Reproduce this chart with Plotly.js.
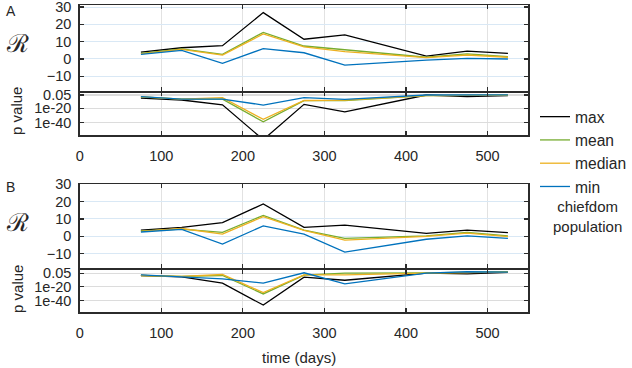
<!DOCTYPE html>
<html>
<head>
<meta charset="utf-8">
<script src="https://cdn.plot.ly/plotly-3.0.1.min.js"></script>
<style>html,body{margin:0;padding:0;background:#fff;}#chart{width:632px;height:368px;}</style>
</head>
<body>
<div id="chart"></div>
<script>
// time points (days)
const days = [75, 125, 175, 225, 275, 325, 425, 475, 525];
const seriesNames = ['max', 'mean', 'median', 'min'];
const seriesColors = ['#000000', '#77AC30', '#EDB120', '#0072BD'];

// Panel A: reproduction number R
const maxA    = [4.0, 6.5, 7.7, 26.8, 11.4, 13.9, 1.7, 4.6, 3.3];
const meanA   = [3.3, 5.8, 2.7, 15.4, 7.5, 5.2, 1.0, 2.9, 1.3];
const medianA = [3.0, 5.5, 2.2, 14.5, 7.0, 4.2, 0.8, 2.3, 1.0];
const minA    = [2.7, 5.0, -2.5, 6.0, 3.6, -3.5, -0.6, 0.4, 0.0];
// Panel A: p value (log10)
const maxPA    = [-5.5, -8.3, -15, -64, -14.4, -25, -1.3, -3.7, -2.3];
const meanPA   = [-4, -7, -7, -38.9, -9.3, -9.3, -2.3, -2, -1.5];
const medianPA = [-4, -7, -5, -35.5, -9, -8.5, -2, -1.8, -1.5];
const minPA    = [-3.7, -7, -7, -15.4, -5, -7.4, -1.3, -1.3, -1];

// Panel B: reproduction number R
const maxB    = [3.5, 5.2, 7.9, 18.7, 5.2, 6.4, 1.7, 3.6, 2.1];
const meanB   = [3.1, 4.2, 2.3, 12.1, 3.6, -1.2, 0.2, 2.3, 0.2];
const medianB = [2.8, 4.5, 1.3, 11.3, 3.4, -2.2, 0.0, 1.8, -0.2];
const minB    = [2.5, 4.0, -4.5, 6.0, 1.2, -9.1, -1.7, 0.2, -1.2];
// Panel B: p value (log10)
const maxPB    = [-4.3, -6.2, -15.2, -46.2, -6.6, -11, -1, -2, 0];
const meanPB   = [-4.3, -5.5, -4.3, -30.4, -3.7, -0.9, -0.5, 0.5, 1];
const medianPB = [-4.3, -5.5, -2.9, -28.6, -3.3, -3.3, -1, 0, 0.5];
const minPB    = [-3.3, -5.7, -9, -15.2, -0.4, -16.1, -0.9, 1, 0.5];

// tick labels
const xTicks = [0, 100, 200, 300, 400, 500];
const rTicks = [-10, 0, 10, 20, 30];
const pTickVals = [Math.log10(0.05), -20, -40];
const pTickText = ['0.05', '1e-20', '1e-40'];

const W = 632, H = 368;
const px = v => v / W;
const py = v => 1 - v / H;

const groups = [
  {vals: [maxA, meanA, medianA, minA], xa: 'x', ya: 'y', legend: true},
  {vals: [maxPA, meanPA, medianPA, minPA], xa: 'x2', ya: 'y2', legend: false},
  {vals: [maxB, meanB, medianB, minB], xa: 'x3', ya: 'y3', legend: false},
  {vals: [maxPB, meanPB, medianPB, minPB], xa: 'x4', ya: 'y4', legend: false}
];
const traces = [];
groups.forEach(g => {
  g.vals.forEach((arr, i) => {
    traces.push({
      x: days, y: arr, xaxis: g.xa, yaxis: g.ya, type: 'scatter', mode: 'lines',
      name: seriesNames[i], showlegend: g.legend, legendgroup: seriesNames[i],
      line: {color: seriesColors[i], width: 1.3}, hoverinfo: 'skip'
    });
  });
});

const font = {family: 'Liberation Sans, Arial, sans-serif', size: 14.5, color: '#262626'};
const axLine = {showline: true, linecolor: '#2b2b2b', linewidth: 1.5, mirror: 'ticks',
  ticks: 'inside', ticklen: 4, tickwidth: 1.2, tickcolor: '#2b2b2b', zeroline: false,
  ticklabeloverflow: 'allow'};
const xdom = [px(80), px(530)];
function xax(anchor, labels) {
  return Object.assign({}, axLine, {domain: xdom, anchor: anchor, range: [0, 550],
    tickmode: 'array', tickvals: xTicks, showticklabels: labels, ticklabelstandoff: 7,
    showgrid: true, gridcolor: '#e2e2e2', gridwidth: 1, tickfont: font});
}
function yR(anchor, dom, rng) {
  return Object.assign({}, axLine, {domain: dom, anchor: anchor, range: rng,
    tickmode: 'array', tickvals: rTicks, showgrid: true, gridcolor: '#d9e8f5', gridwidth: 1,
    tickfont: font, ticklabelstandoff: 4});
}
function yP(anchor, dom, rng) {
  return Object.assign({}, axLine, {domain: dom, anchor: anchor, range: rng,
    tickmode: 'array', tickvals: pTickVals, ticktext: pTickText, showgrid: true,
    gridcolor: '#dcdcdc', gridwidth: 1.2, tickfont: font, ticklabelstandoff: 4});
}
function ann(text, x, y, extra) {
  return Object.assign({text: text, x: px(x), y: py(y), xref: 'paper', yref: 'paper',
    xanchor: 'center', yanchor: 'middle', showarrow: false,
    font: {family: font.family, size: 15, color: '#262626'}}, extra || {});
}

const layout = {
  width: W, height: H, margin: {l: 0, r: 0, t: 0, b: 0},
  paper_bgcolor: '#fff', plot_bgcolor: '#fff', font: font,
  xaxis: xax('y', false),
  yaxis: yR('x', [py(91), py(5)], [-18.5, 31.2]),
  xaxis2: xax('y2', true),
  yaxis2: yP('x2', [py(135), py(92)], [-57.4, 2.9]),
  xaxis3: xax('y3', false),
  yaxis3: yR('x3', [py(268), py(184)], [-18.3, 30.2]),
  xaxis4: xax('y4', true),
  yaxis4: yP('x4', [py(312), py(270)], [-56, 3.5]),
  showlegend: true,
  legend: {x: px(537), y: py(100), xanchor: 'left', yanchor: 'top', bgcolor: 'rgba(0,0,0,0)',
    borderwidth: 0, font: {family: font.family, size: 15.6, color: '#262626'}, tracegroupgap: 0},
  annotations: [
    ann('A', 11, 11, {font: {family: font.family, size: 14, color: '#262626'}}),
    ann('B', 11, 187, {font: {family: font.family, size: 14, color: '#262626'}}),
    ann('ℛ', 18, 44, {font: {family: 'DejaVu Serif, serif', size: 25, color: '#262626'}}),
    ann('ℛ', 18, 222, {font: {family: 'DejaVu Serif, serif', size: 25, color: '#262626'}}),
    ann('p value', 17, 111, {textangle: -90}),
    ann('p value', 17, 289, {textangle: -90}),
    ann('time (days)', 300, 357),
    ann('chiefdom<br>population', 589, 216)
  ]
};

Plotly.newPlot('chart', traces, layout, {staticPlot: true, displayModeBar: false});
</script>
</body>
</html>
